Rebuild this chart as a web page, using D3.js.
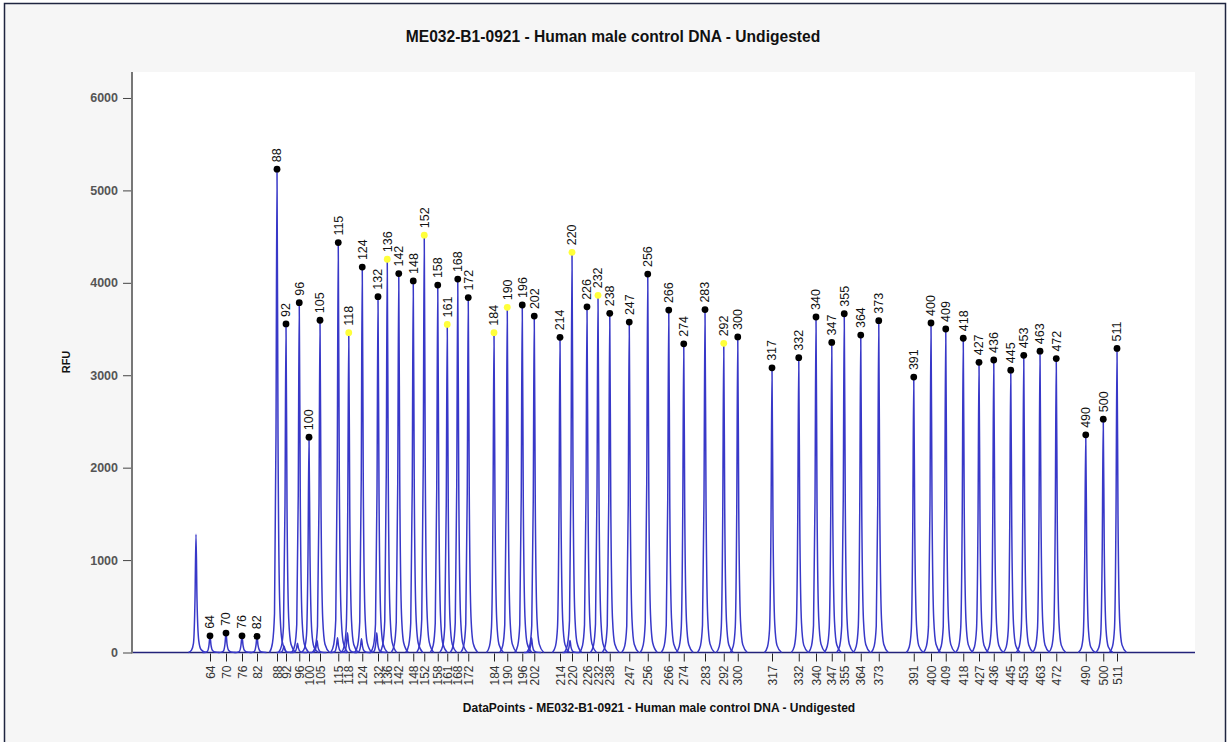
<!DOCTYPE html>
<html>
<head>
<meta charset="utf-8">
<script src="https://cdn.jsdelivr.net/npm/d3@7"></script>
<style>
  body { margin: 0; background: #fff; }
  svg { display: block; font-family: Arial, "Liberation Sans", sans-serif; }
</style>
</head>
<body>
<svg id="chart" width="1227" height="742"></svg>
<script>
// Sized peaks: fragment size (label), position in data points, height in RFU
const sizeLabels = [64, 70, 76, 82, 88, 92, 96, 100, 105, 115, 118, 124, 132, 136, 142, 148, 152, 158, 161, 168, 172,
  184, 190, 196, 202, 214, 220, 226, 232, 238, 247, 256, 266, 274, 283, 292, 300,
  317, 332, 340, 347, 355, 364, 373, 391, 400, 409, 418, 427, 436, 445, 453, 463, 472, 490, 500, 511];
const dataPoints = [1308, 1372, 1436, 1496, 1576, 1612, 1665, 1704, 1748, 1821, 1863, 1917, 1980, 2017, 2063, 2121, 2165, 2219, 2257, 2299, 2341,
  2444, 2497, 2557, 2605, 2708, 2756, 2816, 2860, 2907, 2985, 3059, 3143, 3203, 3288, 3363, 3419,
  3556, 3663, 3732, 3795, 3845, 3911, 3983, 4123, 4192, 4251, 4321, 4384, 4443, 4511, 4563, 4628, 4693, 4811, 4881, 4936];
const rfuValues = [180, 210, 180, 175, 5230, 3555, 3785, 2330, 3595, 4435, 3460, 4170, 3850, 4255, 4100, 4020, 4515, 3975, 3550, 4040, 3840,
  3460, 3735, 3760, 3640, 3410, 4330, 3740, 3865, 3670, 3575, 4095, 3705, 3340, 3710, 3345, 3415,
  3080, 3190, 3630, 3355, 3665, 3435, 3590, 2980, 3565, 3500, 3400, 3140, 3165, 3055, 3215, 3260, 3180, 2355, 2525, 3290];
// peaks marked with a yellow dot
const flaggedSizes = [118, 136, 152, 161, 184, 190, 220, 232, 292];

// unlabelled peaks: primer peak and small shoulders
const extraDataPoints = [1252, 1604, 1658, 1736, 1818, 1858, 1914, 1975, 2594, 2748];
const extraRfu = [1280, 70, 100, 130, 160, 215, 150, 215, 160, 130];

const yTicks = [0, 1000, 2000, 3000, 4000, 5000, 6000];
const dataPointRange = [1000, 5248];
const titleText = "ME032-B1-0921 - Human male control DNA - Undigested";
const xLabel = "DataPoints - ME032-B1-0921 - Human male control DNA - Undigested";
const yLabel = "RFU";

// peak shape template (data point offsets / fraction of height)
const shapeOffsets = [-30, -18, -10, -4, 0, 4, 11, 20, 38];
const shapeFracs = [0, 0.02, 0.08, 0.45, 1, 0.45, 0.1, 0.025, 0];

const svg = d3.select("#chart");
const W = 1227, H = 742;
const margin = { top: 72, right: 32, bottom: 89.5, left: 133 };

svg.append("rect")
  .attr("x", 4.5).attr("y", 3.5)
  .attr("width", W - 6).attr("height", H)
  .attr("fill", "#f6f6f6")
  .attr("stroke", "#1f2540")
  .attr("stroke-width", 1.5);

const x = d3.scaleLinear().domain(dataPointRange).range([margin.left, W - margin.right]);
const y = d3.scaleLinear().domain([0, 6281]).range([H - margin.bottom, margin.top]);

// plot area
svg.append("rect")
  .attr("x", margin.left).attr("y", margin.top)
  .attr("width", W - margin.right - margin.left)
  .attr("height", H - margin.bottom - margin.top)
  .attr("fill", "#fff");

// title
svg.append("text")
  .attr("x", 613).attr("y", 42)
  .attr("text-anchor", "middle")
  .attr("font-size", "15.6px")
  .attr("font-weight", "bold")
  .attr("fill", "#111")
  .text(titleText);

// y axis
const yAxis = svg.append("g")
  .attr("transform", `translate(${margin.left - 1},0)`)
  .call(d3.axisLeft(y).tickValues(yTicks).tickSize(9).tickPadding(5).tickFormat(d3.format("d")));
yAxis.select(".domain").remove();
yAxis.selectAll("line").attr("stroke", "#444");
yAxis.selectAll("text")
  .attr("font-size", "12.5px")
  .attr("font-weight", "bold")
  .attr("font-family", "Arial, 'Liberation Sans', sans-serif")
  .attr("fill", "#555");
svg.append("line")
  .attr("x1", margin.left - 1).attr("x2", margin.left - 1)
  .attr("y1", margin.top).attr("y2", y(0) + 1)
  .attr("stroke", "#777").attr("stroke-width", 2);

svg.append("text")
  .attr("transform", "translate(70,362) rotate(-90)")
  .attr("text-anchor", "middle")
  .attr("font-size", "11px")
  .attr("font-weight", "bold")
  .attr("fill", "#111")
  .text(yLabel);

// x axis ticks at sized peaks
const xAxis = svg.append("g")
  .attr("transform", `translate(0,${y(0) + 1})`)
  .call(d3.axisBottom(x).tickValues(dataPoints).tickSize(8)
    .tickFormat((d, i) => sizeLabels[i]));
xAxis.select(".domain").remove();
xAxis.selectAll("line").attr("stroke", "#222");
xAxis.selectAll("text")
  .attr("transform", "rotate(-90)")
  .attr("text-anchor", "end")
  .attr("x", -12).attr("y", 0).attr("dy", "0.35em")
  .attr("font-size", "12px")
  .attr("font-family", "Arial, 'Liberation Sans', sans-serif")
  .attr("fill", "#333");

svg.append("text")
  .attr("x", 659).attr("y", 712)
  .attr("text-anchor", "middle")
  .attr("font-size", "12px")
  .attr("font-weight", "bold")
  .attr("fill", "#111")
  .text(xLabel);

// trace
const peaks = dataPoints.map((d, i) => ({ dp: d, rfu: rfuValues[i], size: sizeLabels[i] }));
const allPeaks = peaks.concat(extraDataPoints.map((d, i) => ({ dp: d, rfu: extraRfu[i] })));

const line = d3.line()
  .x(p => x(p[0]))
  .y(p => y(p[1]))
  .curve(d3.curveMonotoneX);

svg.append("path")
  .attr("d", line([[dataPointRange[0], 0], [dataPointRange[1], 0]]))
  .attr("stroke", "#23237a")
  .attr("stroke-width", 1.6)
  .attr("fill", "none");

svg.append("g").selectAll("path")
  .data(allPeaks)
  .join("path")
  .attr("d", d => line(shapeOffsets.map((o, k) => [d.dp + o, d.rfu * shapeFracs[k]])))
  .attr("stroke", "#3838c8")
  .attr("stroke-width", 1.5)
  .attr("fill", "none");

// peak markers and labels
const marks = svg.append("g").selectAll("g")
  .data(peaks)
  .join("g")
  .attr("transform", d => `translate(${x(d.dp)},${y(d.rfu)})`);

marks.append("circle")
  .attr("r", 3.4)
  .attr("fill", d => flaggedSizes.includes(d.size) ? "#ffff3a" : "#000");

marks.append("text")
  .attr("transform", "rotate(-90)")
  .attr("x", 7).attr("y", 0).attr("dy", "0.35em")
  .attr("text-anchor", "start")
  .attr("font-size", "12.5px")
  .attr("fill", "#111")
  .text(d => d.size);
</script>
</body>
</html>
